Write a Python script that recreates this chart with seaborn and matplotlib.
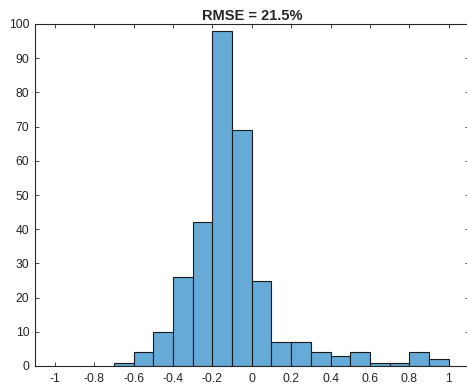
import numpy as np
import matplotlib
matplotlib.use("Agg")
import matplotlib.pyplot as plt
import seaborn as sns

# histogram bins (edges) and counts
bin_edges = [-0.7, -0.6, -0.5, -0.4, -0.3, -0.2, -0.1, 0.0, 0.1, 0.2,
             0.3, 0.4, 0.5, 0.6, 0.7, 0.8, 0.9, 1.0]
counts = [1, 4, 10, 26, 42, 98, 69, 25, 7, 7, 4, 3, 4, 1, 1, 4, 2]
x_ticks = [-1, -0.8, -0.6, -0.4, -0.2, 0, 0.2, 0.4, 0.6, 0.8, 1]
x_tick_labels = ["-1", "-0.8", "-0.6", "-0.4", "-0.2", "0", "0.2", "0.4", "0.6", "0.8", "1"]
y_ticks = [0, 10, 20, 30, 40, 50, 60, 70, 80, 90, 100]
title = "RMSE = 21.5%"

sns.set_style("white")
plt.rcParams["font.family"] = ["Liberation Sans", "DejaVu Sans"]

centers = [(a + b) / 2 for a, b in zip(bin_edges[:-1], bin_edges[1:])]

fig = plt.figure(figsize=(4.67, 3.89), dpi=100)
ax = fig.add_axes([35 / 467, 23 / 389, (468.5 - 35) / 467, (366 - 24) / 389])

sns.histplot(x=centers, weights=counts, bins=bin_edges, ax=ax,
             color="#66aad7", alpha=1.0, edgecolor="#1a1a1a", linewidth=0.8)

ax.set_xlim(-1.1, 1.1)
ax.set_ylim(0, 100)
ax.set_xticks(x_ticks)
ax.set_xticklabels(x_tick_labels)
ax.set_yticks(y_ticks)
ax.set_xlabel("")
ax.set_ylabel("")
ax.tick_params(direction="in", length=3, width=0.6, color="#262626",
               labelsize=8.7, labelcolor="#262626",
               top=True, right=True, bottom=True, left=True)
ax.tick_params(axis="x", pad=5)
ax.tick_params(axis="y", pad=4)
for s in ax.spines.values():
    s.set_color("#262626")
    s.set_linewidth(0.8)
ax.set_title(title, fontsize=10.5, fontweight="bold", pad=3)

fig.savefig("out.png", dpi=100)
